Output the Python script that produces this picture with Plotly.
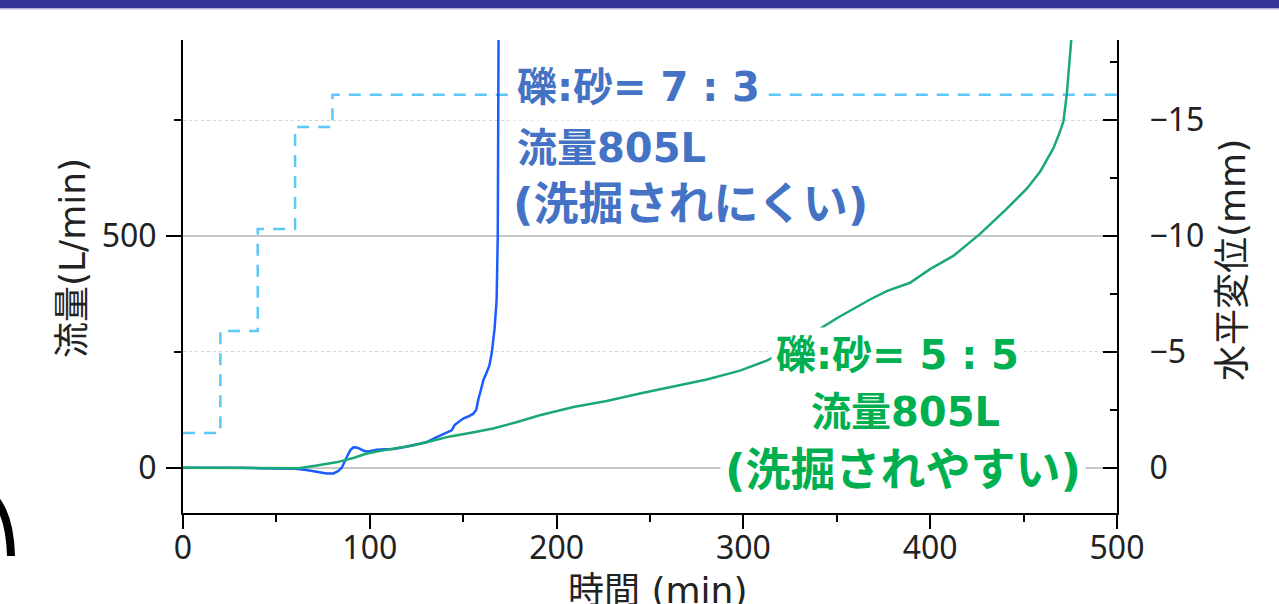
import plotly.graph_objects as go

# 礫:砂=7:3  時間(min) / 水平変位(mm)
t_73 = [0, 10, 20, 30, 40, 50, 60, 66, 70, 73, 77, 80.5, 83, 85, 87.6, 89.5, 91.2, 93,
        94.8, 97, 99.2, 103.7, 108, 112.6, 118, 123, 127, 130.4, 135.8, 139, 141.2,
        143.8, 145.5, 147.4, 150, 153, 155.4, 157, 158, 159.9, 160.8, 162.5, 164,
        165.3, 166.8, 167.9, 168.5, 168.7, 168.85, 169]
d_73 = [0, 0.0, -0.02, 0.0, 0.02, 0.03, 0.05, 0.1, 0.17, 0.2, 0.25, 0.25, 0.15, 0.0,
        -0.45, -0.75, -0.88, -0.87, -0.81, -0.72, -0.70, -0.77, -0.8, -0.81, -0.88,
        -0.96, -1.02, -1.1, -1.32, -1.45, -1.53, -1.61, -1.85, -1.97, -2.12, -2.22,
        -2.33, -2.5, -2.91, -3.49, -3.78, -4.1, -4.4, -4.96, -6.0, -7.26, -10, -14,
        -18.6, -20]

# 礫:砂=5:5
t_55 = [0, 20, 40, 62, 71.6, 82, 91.2, 98, 105, 112.6, 123, 133, 143, 155, 166, 178,
        191, 209, 226.8, 244.6, 262.5, 280.4, 298.2, 312.5, 319.6, 335, 350, 367.8,
        376.7, 389.2, 399.9, 412.4, 426.7, 440.9, 451.7, 458.8, 465.9, 469, 471.3,
        473.1, 474.8, 475.7, 476.3]
d_55 = [0, 0.0, 0.02, 0.02, -0.09, -0.23, -0.42, -0.6, -0.72, -0.81, -0.96, -1.15,
        -1.35, -1.52, -1.69, -1.95, -2.26, -2.62, -2.88, -3.2, -3.52, -3.81, -4.19,
        -4.62, -4.91, -5.7, -6.45, -7.26, -7.62, -7.98, -8.57, -9.14, -10.09, -11.17,
        -12.04, -12.77, -13.78, -14.4, -14.94, -16.1, -17.55, -18.64, -20]

# 流量 (L/min) の段階
t_q = [0, 20, 40, 60, 80, 500]
q = [75, 295, 515, 735, 805, 805]

W, H = 1279, 604
L, R, T, B = 183, 1117, 40, 513


def px(x):
    return (x - L) / (R - L)


def py(y):
    return (B - y) / (B - T)


fig = go.Figure()

fig.add_trace(go.Scatter(x=t_q, y=q, mode='lines', line_shape='hv',
                         line=dict(color='#5cc8f8', width=2.5, dash='12px,9px'),
                         yaxis='y', showlegend=False))
fig.add_trace(go.Scatter(x=t_73, y=d_73, mode='lines',
                         line=dict(color='#1a5cff', width=2.5),
                         yaxis='y2', showlegend=False))
fig.add_trace(go.Scatter(x=t_55, y=d_55, mode='lines',
                         line=dict(color='#1aa874', width=2.5),
                         yaxis='y2', showlegend=False))

tickfont = dict(family='Noto Sans', size=32, color='#222')
cjk = 'DejaVu Sans, Noto Sans CJK JP'

fig.update_layout(
    width=W, height=H,
    margin=dict(l=L, r=W - R, t=T, b=H - B),
    paper_bgcolor='white', plot_bgcolor='white',
    xaxis=dict(range=[0, 500], dtick=100, tick0=0, showgrid=False, zeroline=False,
               showline=True, linecolor='black', linewidth=2,
               ticks='outside', ticklen=14, tickwidth=2, tickcolor='black',
               ticklabelstandoff=-8,
               minor=dict(dtick=50, ticks='outside', ticklen=7, tickwidth=2,
                          tickcolor='black', showgrid=False),
               tickfont=tickfont),
    yaxis=dict(range=[-97.8, 923], dtick=500, tick0=0, zeroline=False,
               showgrid=True, gridcolor='#c8c8c8', gridwidth=1.5,
               showline=True, linecolor='black', linewidth=2,
               ticks='outside', ticklen=15, tickwidth=2, tickcolor='black',
               ticklabelstandoff=3,
               minor=dict(dtick=250, ticks='outside', ticklen=7, tickwidth=2,
                          tickcolor='black', showgrid=True, gridcolor='#d4d4d4',
                          griddash='dot', gridwidth=1),
               tickfont=tickfont),
    yaxis2=dict(range=[1.956, -18.46], dtick=5, tick0=0, overlaying='y', side='right',
                showgrid=False, zeroline=False,
                showline=True, linecolor='black', linewidth=2,
                ticks='inside', ticklen=14, tickwidth=2, tickcolor='black',
                ticklabelstandoff=24,
                minor=dict(dtick=2.5, ticks='inside', ticklen=7, tickwidth=2,
                           tickcolor='black', showgrid=False),
                tickfont=tickfont),
)

ann = [
    # 軸タイトル
    dict(text='流量(L/min)', x=px(72), y=py(258), textangle=-90,
         font=dict(family=cjk, size=36, color='#222')),
    dict(text='水平変位(mm)', x=px(1232), y=py(260), textangle=-90,
         font=dict(family=cjk, size=36, color='#222')),
    dict(text='時間 (min)', x=px(657), y=py(590),
         font=dict(family=cjk, size=36, color='#222')),
]

blue = '#4472C4'
green = '#00B050'
for txt, y, size, pad in [('礫:砂= 7 : 3', 87, 40, 4), ('流量805L', 148, 40, 4),
                          ('(洗掘されにくい)', 205, 45, 0)]:
    ann.append(dict(text='<b>' + txt + '</b>', x=px(512), y=py(y), xanchor='left',
                    font=dict(family=cjk, size=size, color=blue),
                    bgcolor='white', borderpad=pad))
for txt, x, y, size in [('礫:砂= 5 : 5', 897, 355, 40), ('流量805L', 905, 412, 40),
                        ('(洗掘されやすい)', 903, 470, 45)]:
    ann.append(dict(text='<b>' + txt + '</b>', x=px(x), y=py(y),
                    font=dict(family=cjk, size=size, color=green),
                    bgcolor='white', borderpad=4))

for a in ann:
    a.setdefault('xref', 'paper')
    a.setdefault('yref', 'paper')
    a.setdefault('showarrow', False)
    a.setdefault('xanchor', 'center')
    a.setdefault('yanchor', 'middle')
fig.update_layout(annotations=ann)

# スライドの上部帯と左下の弧
fig.add_shape(type='rect', xref='paper', yref='paper',
              x0=px(0), x1=px(W), y0=py(0), y1=py(8),
              fillcolor='#353598', line_width=0, layer='above')
fig.add_shape(type='rect', xref='paper', yref='paper',
              x0=px(0), x1=px(W), y0=py(8), y1=py(9.5),
              fillcolor='#b4b4dc', line_width=0, layer='above')
fig.add_shape(type='path', xref='paper', yref='paper',
              path=f'M {px(-4)},{py(500)} Q {px(10)},{py(518)} {px(11)},{py(556)}',
              line=dict(color='black', width=8), layer='above')

fig.write_html('out.html', config={'displayModeBar': False},
               post_script="document.body.style.margin='0px';")
